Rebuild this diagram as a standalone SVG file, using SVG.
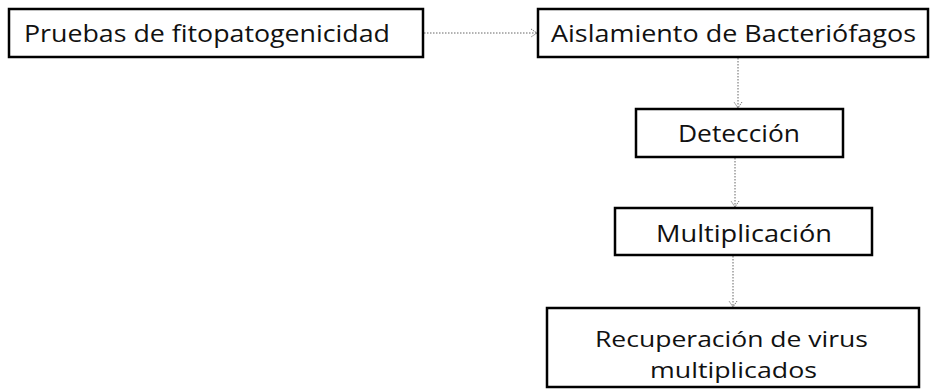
<svg xmlns="http://www.w3.org/2000/svg" width="932" height="389" viewBox="0 0 932 389">
<defs>
<style>
.box{fill:#fff;stroke:#000;stroke-width:2.5}
.t{font-family:"Open Sans","Noto Sans",sans-serif;font-size:24px;fill:#111}
.s{font-size:22px}
.c{fill:none;stroke:#666;stroke-width:1;stroke-dasharray:1.5 1.5}
</style>
<marker id="ah" markerWidth="10" markerHeight="10" refX="8" refY="5" orient="auto" markerUnits="userSpaceOnUse">
<path d="M2,1 L8,5 L2,9" fill="none" stroke="#777" stroke-width="1" stroke-dasharray="1.5 1"/>
</marker>
</defs>
<rect width="932" height="389" fill="#fff"/>
<g id="connectors">
<line class="c" x1="424" y1="33" x2="537" y2="33" marker-end="url(#ah)"/>
<line class="c" x1="738" y1="58" x2="738" y2="108" marker-end="url(#ah)"/>
<line class="c" x1="735" y1="158" x2="735" y2="207" marker-end="url(#ah)"/>
<line class="c" x1="733" y1="256" x2="733" y2="307" marker-end="url(#ah)"/>
</g>
<g id="n1">
<rect class="box" x="9" y="9" width="414" height="48"/>
<text class="t" x="24" y="42" textLength="366" lengthAdjust="spacingAndGlyphs">Pruebas de fitopatogenicidad</text>
</g>
<g id="n2">
<rect class="box" x="538" y="9" width="390" height="48"/>
<text class="t" x="551" y="42" textLength="365" lengthAdjust="spacingAndGlyphs">Aislamiento de Bacteriófagos</text>
</g>
<g id="n3">
<rect class="box" x="636" y="109" width="207" height="48"/>
<text class="t" x="678" y="142" textLength="122" lengthAdjust="spacingAndGlyphs">Detección</text>
</g>
<g id="n4">
<rect class="box" x="615" y="208" width="257" height="47"/>
<text class="t" x="656" y="242" textLength="176" lengthAdjust="spacingAndGlyphs">Multiplicación</text>
</g>
<g id="n5">
<rect class="box" x="547" y="308" width="372" height="79"/>
<text class="t s" x="595" y="347" textLength="273" lengthAdjust="spacingAndGlyphs">Recuperación de virus</text>
<text class="t s" x="650" y="378" textLength="167" lengthAdjust="spacingAndGlyphs">multiplicados</text>
</g>
</svg>
